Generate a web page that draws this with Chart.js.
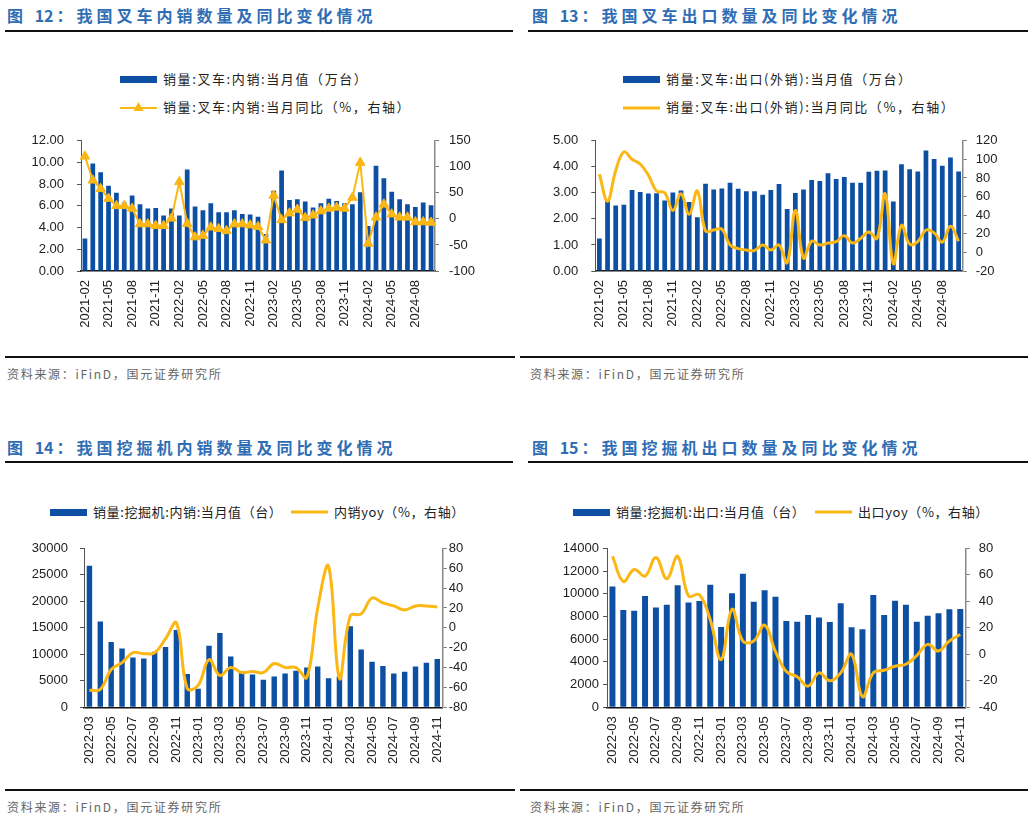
<!DOCTYPE html>
<html>
<head>
<meta charset="utf-8">
<script src="https://cdn.jsdelivr.net/npm/chart.js@4.4.1/dist/chart.umd.min.js"></script>
<style>
    body { margin: 0; width: 1032px; height: 820px; background: #fff; position: relative; overflow: hidden;
           font-family: "Noto Sans CJK SC", sans-serif; }
    .abs { position: absolute; white-space: nowrap; }
    .title { font-size: 16px; font-weight: bold; color: #2f6db5; letter-spacing: 4px; line-height: 22px; }
    .title .num { letter-spacing: 0; margin-right: 3px; }
    .rule { height: 2px; background: #111; }
    .src { font-size: 12px; color: #666; line-height: 16px; letter-spacing: 1.7px; }
    .leg { font-size: 13px; color: #222; line-height: 16px; letter-spacing: 1.6px; }
    .leg.low { letter-spacing: 0.6px; }
    .swatch { background: #0c4fa3; width: 37px; height: 7px; }
    canvas { position: absolute; }
</style>
</head>
<body>

<!-- titles and rules -->
<div class="abs title" style="left:7px;top:4px">图 <span class="num">12</span>：我国叉车内销数量及同比变化情况</div>
<div class="abs rule" style="left:5px;top:30px;width:508px"></div>
<div class="abs title" style="left:532px;top:4px">图 <span class="num">13</span>：我国叉车出口数量及同比变化情况</div>
<div class="abs rule" style="left:528px;top:30px;width:500px"></div>

<div class="abs rule" style="left:5px;top:356px;width:510px"></div>
<div class="abs rule" style="left:520px;top:356px;width:508px"></div>
<div class="abs src" style="left:7px;top:366px">资料来源：iFinD，国元证券研究所</div>
<div class="abs src" style="left:530px;top:366px">资料来源：iFinD，国元证券研究所</div>

<div class="abs title" style="left:7px;top:436px">图 <span class="num">14</span>：我国挖掘机内销数量及同比变化情况</div>
<div class="abs rule" style="left:5px;top:461px;width:508px"></div>
<div class="abs title" style="left:532px;top:436px">图 <span class="num">15</span>：我国挖掘机出口数量及同比变化情况</div>
<div class="abs rule" style="left:528px;top:461px;width:500px"></div>

<div class="abs rule" style="left:5px;top:789px;width:510px"></div>
<div class="abs rule" style="left:520px;top:789px;width:508px"></div>
<div class="abs src" style="left:7px;top:799px">资料来源：iFinD，国元证券研究所</div>
<div class="abs src" style="left:530px;top:799px">资料来源：iFinD，国元证券研究所</div>

<!-- legends -->
<div class="abs swatch" style="left:120px;top:76px"></div>
<div class="abs leg" style="left:163px;top:71px">销量:叉车:内销:当月值（万台）</div>
<svg class="abs" style="left:120px;top:100px" width="37" height="16">
    <line x1="0" y1="8" x2="37" y2="8" stroke="#fbb714" stroke-width="2"/>
    <polygon points="18.5,2 23.5,11 13.5,11" fill="#fbb714"/>
</svg>
<div class="abs leg" style="left:163px;top:99px">销量:叉车:内销:当月同比（%，右轴）</div>

<div class="abs swatch" style="left:623px;top:76px"></div>
<div class="abs leg" style="left:666px;top:71px">销量:叉车:出口(外销):当月值（万台）</div>
<svg class="abs" style="left:623px;top:100px" width="37" height="16">
    <line x1="0" y1="8" x2="37" y2="8" stroke="#fbb714" stroke-width="3"/>
</svg>
<div class="abs leg" style="left:666px;top:99px">销量:叉车:出口(外销):当月同比（%，右轴）</div>

<div class="abs swatch" style="left:50px;top:509px"></div>
<div class="abs leg low" style="left:93px;top:504px">销量:挖掘机:内销:当月值（台）</div>
<svg class="abs" style="left:291px;top:504px" width="37" height="16">
    <line x1="0" y1="8" x2="37" y2="8" stroke="#fbb714" stroke-width="3"/>
</svg>
<div class="abs leg low" style="left:334px;top:504px">内销yoy（%，右轴）</div>

<div class="abs swatch" style="left:573px;top:509px"></div>
<div class="abs leg low" style="left:616px;top:504px">销量:挖掘机:出口:当月值（台）</div>
<svg class="abs" style="left:815px;top:504px" width="37" height="16">
    <line x1="0" y1="8" x2="37" y2="8" stroke="#fbb714" stroke-width="3"/>
</svg>
<div class="abs leg low" style="left:858px;top:504px">出口yoy（%，右轴）</div>

<canvas id="c12"></canvas>
<canvas id="c13"></canvas>
<canvas id="c14"></canvas>
<canvas id="c15"></canvas>

<script>
// months for the forklift charts (2021-02 .. 2024-10)
const forkMonths = [
    '2021-02','2021-03','2021-04','2021-05','2021-06','2021-07','2021-08','2021-09','2021-10','2021-11','2021-12',
    '2022-01','2022-02','2022-03','2022-04','2022-05','2022-06','2022-07','2022-08','2022-09','2022-10','2022-11','2022-12',
    '2023-01','2023-02','2023-03','2023-04','2023-05','2023-06','2023-07','2023-08','2023-09','2023-10','2023-11','2023-12',
    '2024-01','2024-02','2024-03','2024-04','2024-05','2024-06','2024-07','2024-08','2024-09','2024-10'
];

// 万台
const forkDomesticSales = [
    3.0, 9.9, 9.1, 7.85, 7.2, 6.3, 6.95, 6.15, 5.75, 5.8, 5.1,
    5.75, 5.1, 9.35, 5.95, 5.6, 6.25, 5.4, 5.4, 5.6, 5.25, 5.2, 5.0,
    3.4, 7.4, 9.25, 6.55, 6.6, 6.4, 5.85, 6.25, 6.65, 6.45, 6.25, 6.15,
    7.25, 4.15, 9.7, 8.55, 7.3, 6.6, 6.15, 5.9, 6.3, 6.05
];
// %
const forkDomesticYoy = [
    120, 74, 58, 39, 25, 25, 20, -10, -10, -13, -13,
    1, 71, -9, -35, -32, -16, -19, -23, -10, -10, -12, -15,
    -41, 45, -2, 11, 18, 2, 7, 15, 20, 22, 20, 41,
    108, -47, 3, 28, 9, 3, 3, -6, -6, -7
];

const forkExportSales = [
    1.25, 2.69, 2.51, 2.54, 3.11, 3.03, 2.97, 2.98, 2.71, 3.01, 3.09,
    2.65, 2.06, 3.35, 3.13, 3.17, 3.39, 3.16, 3.06, 3.06, 2.93, 3.11, 3.34,
    2.38, 2.99, 3.13, 3.49, 3.45, 3.75, 3.53, 3.61, 3.39, 3.39, 3.81, 3.85,
    3.86, 2.67, 4.10, 3.90, 3.82, 4.62, 4.30, 4.04, 4.36, 3.82
];
const forkExportYoy = [
    84, 55, 88, 108, 100, 95, 83, 66, 64, 45, 63,
    41, 66, 23, 24, 25, 8, 4, 2.5, 2, 8, 2.5, 8,
    -11, 45, -6, 12, 8, 10, 11.5, 18, 10, 15, 22, 15,
    63, -12, 29, 9, 11.5, 24, 21, 11, 28, 12
];

// months for the excavator charts (2022-03 .. 2024-11)
const excMonths = [
    '2022-03','2022-04','2022-05','2022-06','2022-07','2022-08','2022-09','2022-10','2022-11','2022-12',
    '2023-01','2023-02','2023-03','2023-04','2023-05','2023-06','2023-07','2023-08','2023-09','2023-10','2023-11','2023-12',
    '2024-01','2024-02','2024-03','2024-04','2024-05','2024-06','2024-07','2024-08','2024-09','2024-10','2024-11'
];

// 台
const excDomesticSales = [
    26700, 16200, 12300, 11100, 9400, 9200, 10500, 11400, 14600, 6300,
    3500, 11600, 14000, 9600, 6800, 6200, 5200, 5800, 6400, 6900, 7500, 7700,
    5500, 5800, 15300, 10900, 8600, 7800, 6400, 6700, 7700, 8400, 9100
];
const excDomesticYoy = [
    -63, -62, -42, -35, -25, -26, -25, -11, 5, -61,
    -58, -32, -48, -40, -45, -44, -45, -36, -40, -40, -50, 20,
    62, -51, 12, 14, 30, 25, 22, 18, 22, 22, 21
];

const excExportSales = [
    10630, 8570, 8510, 9800, 8780, 9040, 10740, 9220, 9360, 10800,
    7070, 10040, 11770, 9300, 10300, 9740, 7600, 7540, 8130, 7900, 7510, 9160,
    7040, 6870, 9890, 8130, 9390, 9040, 7540, 8070, 8280, 8630, 8660
];
const excExportYoy = [
    74, 55, 64, 59, 73, 57, 74, 44, 45, 26,
    -4, 34, 10, 10, 22, 2, -13, -17, -24, -14, -20, -14,
    0, -32, -14, -12, -9, -7.5, -1, 7.5, 2.5, 10, 15
];

const BAR_BLUE = '#0c4fa3';
const LINE_GOLD = '#fbb714';
const TICK_FONT = { family: '"Liberation Sans", Arial, sans-serif', size: 13 };

/**
 * Bar + line combo on two y axes; box = canvas rect, plot = chart area (page px)
 */
function buildChart(id, box, plot, o) {
    const canvas = document.getElementById(id);
    canvas.width = box.w;
    canvas.height = box.h;
    canvas.style.left = box.x + 'px';
    canvas.style.top = box.y + 'px';

    // vertical axes: fixed width and no extra top/bottom padding from labels
    const fitY = w => s => { s.width = w; s.paddingTop = 0; s.paddingBottom = 0; };

    new Chart(canvas, {
        type: 'bar',
        data: {
            labels: o.labels,
            datasets: [{
                type: 'line',
                data: o.yoy,
                yAxisID: 'y1',
                order: 0,
                borderColor: LINE_GOLD,
                backgroundColor: LINE_GOLD,
                borderWidth: o.lineWidth,
                tension: o.tension,
                pointStyle: 'triangle',
                pointRadius: o.pointRadius,
                pointBorderWidth: 1,
                clip: false
            }, {
                type: 'bar',
                data: o.sales,
                yAxisID: 'y',
                order: 1,
                backgroundColor: BAR_BLUE,
                barPercentage: o.barPct,
                categoryPercentage: 1
            }]
        },
        options: {
            responsive: false,
            animation: false,
            devicePixelRatio: 1,
            layout: { padding: { top: plot.t - box.y, left: 0, right: 0, bottom: 0 } },
            plugins: { legend: { display: false }, tooltip: { enabled: false } },
            scales: {
                x: {
                    grid: { display: false, drawTicks: false },
                    border: { color: '#111', width: 1.5 },
                    ticks: {
                        autoSkip: false, minRotation: 90, maxRotation: 90, padding: 9,
                        font: TICK_FONT, color: '#222',
                        callback: (v, i) => (i % o.every === 0 ? o.labels[i] : '')
                    },
                    afterFit: s => { s.height = box.y + box.h - plot.b; s.paddingLeft = 0; s.paddingRight = 0; }
                },
                y: {
                    position: 'left',
                    min: o.left[0], max: o.left[1],
                    ticks: {
                        stepSize: o.left[2], autoSkip: false, padding: o.padL, font: TICK_FONT, color: '#222',
                        callback: v => v.toFixed(o.dec)
                    },
                    grid: { drawOnChartArea: false, tickLength: 4, color: '#555' },
                    border: { color: '#555' },
                    afterFit: fitY(plot.l - box.x)
                },
                y1: {
                    position: 'right',
                    min: o.right[0], max: o.right[1],
                    ticks: { stepSize: o.right[2], autoSkip: false, padding: o.padR, font: TICK_FONT, color: '#222' },
                    grid: { drawOnChartArea: false, tickLength: 4, color: '#777' },
                    border: { color: '#888', width: 1.5 },
                    afterFit: fitY(box.x + box.w - plot.r)
                }
            }
        }
    });
}

buildChart('c12', { x: 0, y: 125, w: 516, h: 225 }, { l: 81, t: 140.7, r: 435, b: 271 }, {
    labels: forkMonths, sales: forkDomesticSales, yoy: forkDomesticYoy, every: 3,
    left: [0, 12, 2], right: [-100, 150, 50], dec: 2, padL: 13, padR: 10,
    barPct: 0.6, lineWidth: 2, tension: 0, pointRadius: 5.5
});

buildChart('c13', { x: 516, y: 125, w: 516, h: 225 }, { l: 595.3, t: 140.7, r: 962.7, b: 271 }, {
    labels: forkMonths, sales: forkExportSales, yoy: forkExportYoy, every: 3,
    left: [0, 5, 1], right: [-20, 120, 20], dec: 2, padL: 13, padR: 9,
    barPct: 0.58, lineWidth: 3, tension: 0.4, pointRadius: 0
});

buildChart('c14', { x: 0, y: 535, w: 516, h: 245 }, { l: 84, t: 548.3, r: 442.7, b: 707.3 }, {
    labels: excMonths, sales: excDomesticSales, yoy: excDomesticYoy, every: 2,
    left: [0, 30000, 5000], right: [-80, 80, 20], dec: 0, padL: 12, padR: 2,
    barPct: 0.5, lineWidth: 3, tension: 0.4, pointRadius: 0
});

buildChart('c15', { x: 516, y: 535, w: 516, h: 245 }, { l: 607, t: 548.3, r: 965.7, b: 707.3 }, {
    labels: excMonths, sales: excExportSales, yoy: excExportYoy, every: 2,
    left: [0, 14000, 2000], right: [-40, 80, 20], dec: 0, padL: 4, padR: 9,
    barPct: 0.55, lineWidth: 3, tension: 0.4, pointRadius: 0
});
</script>
</body>
</html>
